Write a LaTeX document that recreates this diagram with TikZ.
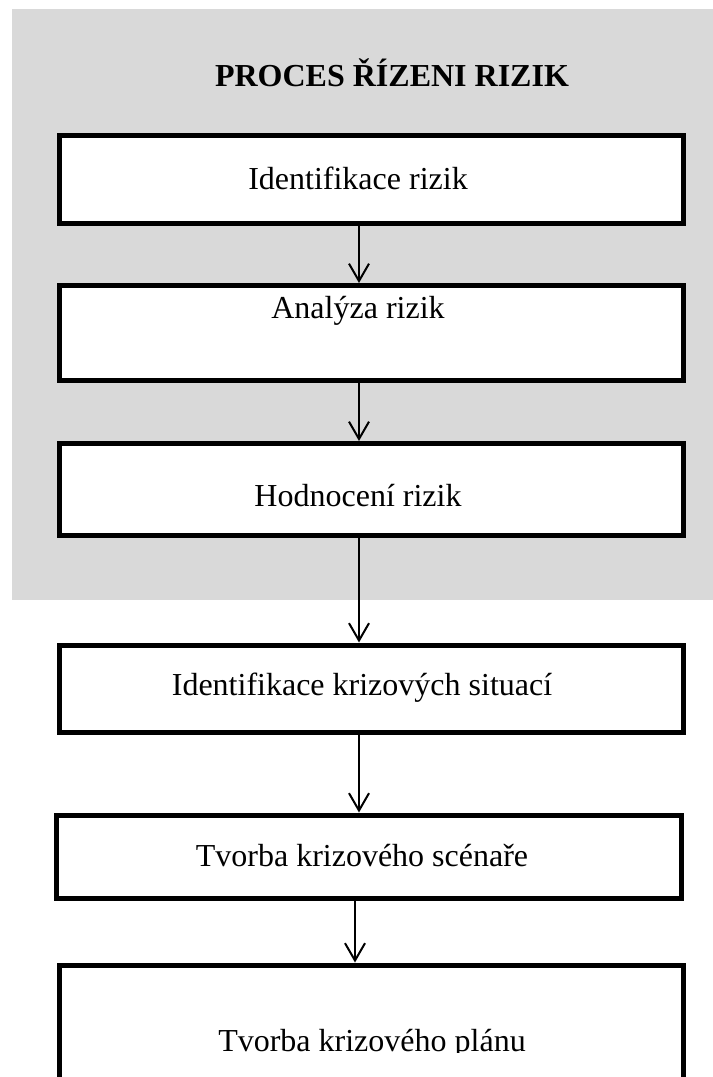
\documentclass[tikz,border=0pt]{standalone}
\usepackage{fontspec}
\setmainfont{Liberation Serif}
\usetikzlibrary{arrows.meta}
\definecolor{bggray}{HTML}{D9D9D9}
\tikzset{
  boxstyle/.style={draw=black, fill=white, line width=3.75pt, minimum width=468pt, inner sep=0pt, rectangle},
  lbl/.style={anchor=base, inner sep=0pt, font=\fontsize{24}{28}\selectfont},
  ttl/.style={anchor=base, inner sep=0pt, font=\fontsize{24}{28}\selectfont\bfseries},
  arr/.style={line width=1.5pt, -{Straight Barb[length=13pt,width=15pt]}}
}
\begin{document}
\begin{tikzpicture}[x=0.75pt,y=-0.75pt]
\useasboundingbox (0,0) rectangle (713,1077);
\fill[bggray] (12,9) rectangle (713,600);
\node[ttl] (title) at (392,87) {PROCES ŘÍZENI RIZIK};
\node[boxstyle, minimum height=66pt] (b1) at (371.5,179.5) {};
\node[boxstyle, minimum height=71.25pt] (b2) at (371.5,333) {};
\node[boxstyle, minimum height=68.625pt] (b3) at (371.5,489.25) {};
\node[boxstyle, minimum height=65.25pt] (b4) at (371.5,688.5) {};
\node[boxstyle, minimum width=468.75pt, minimum height=62.25pt] (b5) at (369,856.5) {};
\node[boxstyle, minimum height=176.25pt] (b6) at (371.5,1082.5) {};
\node[lbl] (t1) at (358,190) {Identifikace rizik};
\node[lbl] (t2) at (358,318) {Analýza rizik};
\node[lbl] (t3) at (358,506) {Hodnocení rizik};
\node[lbl] (t4) at (362,695) {Identifikace krizových situací};
\node[lbl] (t5) at (362,866) {Tvorba krizového scénaře};
\begin{scope}
\clip (0,0) rectangle (713,1052);
\node[lbl] (t6) at (372,1051) {Tvorba krizového plánu};
\end{scope}
\coordinate (ax) at (359,0);
\coordinate (ay) at (355,0);
\draw[arr] (b1.south -| ax) -- (b2.north -| ax);
\draw[arr] (b2.south -| ax) -- (b3.north -| ax);
\draw[arr] (b3.south -| ax) -- (b4.north -| ax);
\draw[arr] (b4.south -| ax) -- (b5.north -| ax);
\draw[arr] (b5.south -| ay) -- (b6.north -| ay);
\end{tikzpicture}
\end{document}
